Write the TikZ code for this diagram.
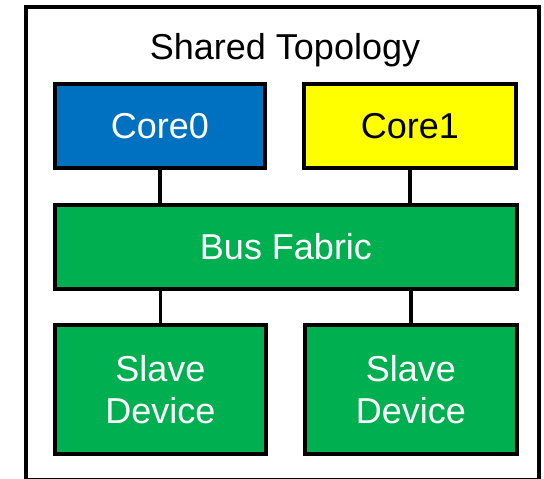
\documentclass[tikz,border=0pt]{standalone}
\usepackage{fontspec}
\setmainfont{Liberation Sans}
\definecolor{coreblue}{HTML}{0070C0}
\definecolor{coreyellow}{HTML}{FFFF00}
\definecolor{busgreen}{HTML}{00B050}
\begin{document}
\begin{tikzpicture}[x=1pt,y=-1pt,
  block/.style={draw=black,line width=4pt,inner sep=0pt,outer sep=0pt,
    font=\fontsize{36}{41.5}\selectfont,align=center},
  link/.style={line width=3.5pt}]
\useasboundingbox (0,0) rectangle (544,479);
% outer frame (its lower edge runs off the page)
\begin{scope}
\clip (0,0) rectangle (544,479);
\draw[line width=4pt] (26,7) rectangle (539,480);
\end{scope}
\node (title) at (285,50) {\fontsize{36}{41.5}\selectfont Shared Topology};
% cores
\node[block,fill=coreblue,text=white,minimum width=210pt,minimum height=84pt] (core0) at (160,126) {Core0};
\node[block,fill=coreyellow,text=black,minimum width=212pt,minimum height=84pt] (core1) at (410,126) {Core1};
% interconnect
\node[block,fill=busgreen,text=white,minimum width=462pt,minimum height=84pt] (bus) at (286,247) {Bus Fabric};
% slaves
\node[block,fill=busgreen,text=white,minimum width=211pt,minimum height=129pt] (slave0) at (160.5,389.5) {Slave\\Device};
\node[block,fill=busgreen,text=white,minimum width=212pt,minimum height=129pt] (slave1) at (411,389.5) {Slave\\Device};
% connections
\draw[link] (core0.south) -- (core0.south |- bus.north);
\draw[link] (core1.south) -- (core1.south |- bus.north);
\draw[link] (slave0.north |- bus.south) -- (slave0.north);
\draw[link] (slave1.north |- bus.south) -- (slave1.north);
\end{tikzpicture}
\end{document}
